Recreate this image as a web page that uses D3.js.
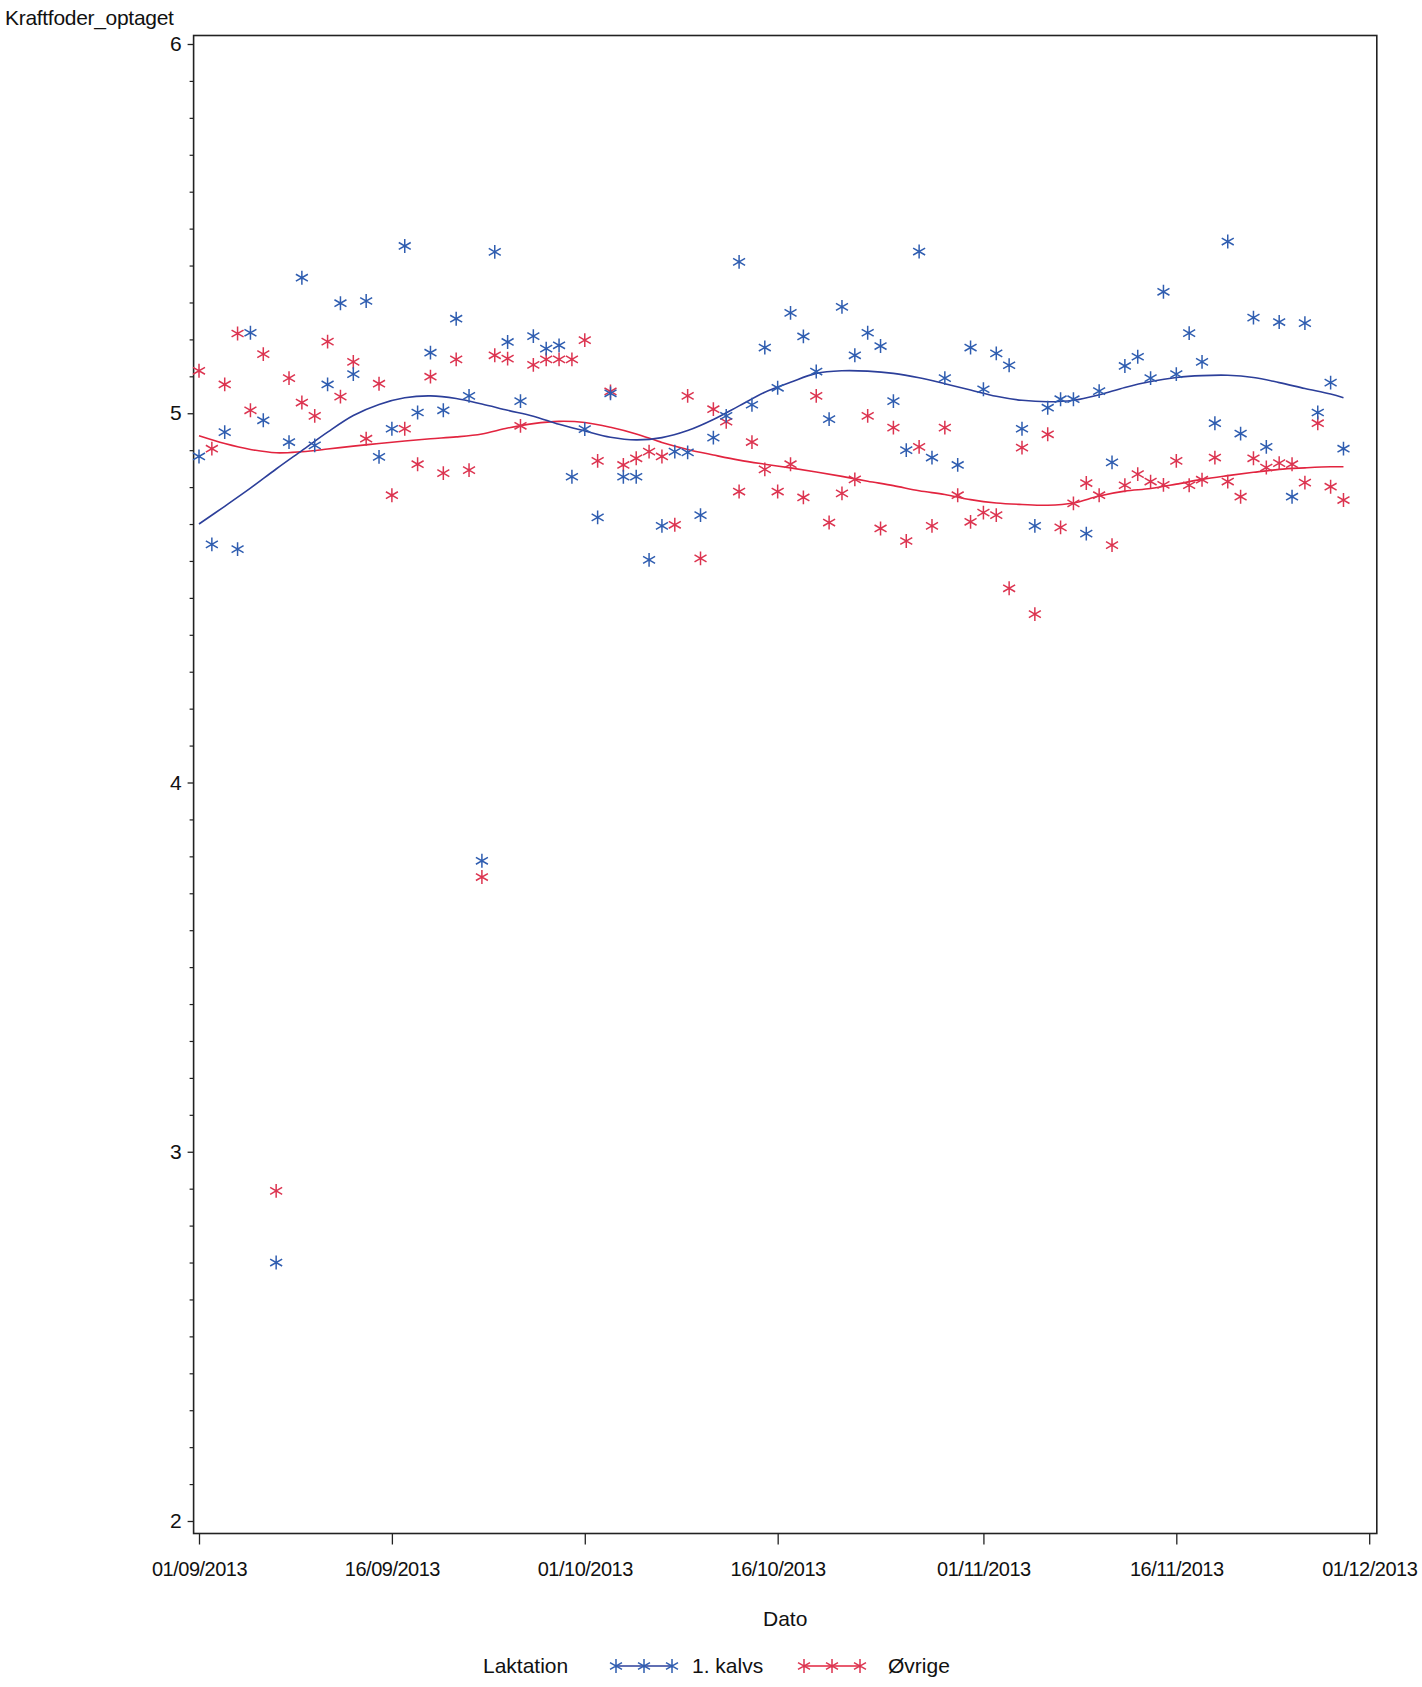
<!DOCTYPE html>
<html>
<head>
<meta charset="utf-8">
<script src="https://cdn.jsdelivr.net/npm/d3@7"></script>
<style>
  html, body { margin: 0; padding: 0; background: #fff; }
  svg { display: block; }
  text { font-family: "Liberation Sans", Arial, sans-serif; fill: #111; }
</style>
</head>
<body>
<svg id="chart" width="1422" height="1687"></svg>
<script>
// ---------- DATA ----------
const dates = [
  "2013-09-01","2013-09-02","2013-09-03","2013-09-04","2013-09-05","2013-09-06","2013-09-07","2013-09-08","2013-09-09","2013-09-10",
  "2013-09-11","2013-09-12","2013-09-13","2013-09-14","2013-09-15","2013-09-16","2013-09-17","2013-09-18","2013-09-19","2013-09-20",
  "2013-09-21","2013-09-22","2013-09-23","2013-09-24","2013-09-25","2013-09-26","2013-09-27","2013-09-28","2013-09-29","2013-09-30",
  "2013-10-01","2013-10-02","2013-10-03","2013-10-04","2013-10-05","2013-10-06","2013-10-07","2013-10-08","2013-10-09","2013-10-10",
  "2013-10-11","2013-10-12","2013-10-13","2013-10-14","2013-10-15","2013-10-16","2013-10-17","2013-10-18","2013-10-19","2013-10-20",
  "2013-10-21","2013-10-22","2013-10-23","2013-10-24","2013-10-25","2013-10-26","2013-10-27","2013-10-28","2013-10-29","2013-10-30",
  "2013-10-31","2013-11-01","2013-11-02","2013-11-03","2013-11-04","2013-11-05","2013-11-06","2013-11-07","2013-11-08","2013-11-09",
  "2013-11-10","2013-11-11","2013-11-12","2013-11-13","2013-11-14","2013-11-15","2013-11-16","2013-11-17","2013-11-18","2013-11-19",
  "2013-11-20","2013-11-21","2013-11-22","2013-11-23","2013-11-24","2013-11-25","2013-11-26","2013-11-27","2013-11-28","2013-11-29"
];

const kalvs1 = [
  4.883,4.645,4.949,4.632,5.218,4.981,2.700,4.922,5.367,4.913,
  5.078,5.298,5.106,5.304,4.882,4.958,5.453,5.002,5.164,5.008,
  5.256,5.047,3.788,5.437,5.193,5.033,5.209,5.175,5.184,4.828,
  4.957,4.718,5.054,4.828,4.828,4.603,4.695,4.896,4.894,4.724,
  4.934,4.993,5.410,5.023,5.178,5.069,5.272,5.208,5.113,4.984,
  5.288,5.157,5.218,5.182,5.033,4.900,5.438,4.880,5.095,4.860,
  5.178,5.065,5.162,5.130,4.958,4.695,5.015,5.038,5.038,4.674,
  5.060,4.867,5.128,5.153,5.095,5.329,5.106,5.217,5.139,4.973,
  5.465,4.945,5.259,4.909,5.247,4.774,5.244,5.002,5.083,4.904
];

const ovrige = [
  5.115,4.904,5.078,5.216,5.008,5.160,2.894,5.095,5.029,4.993,
  5.194,5.045,5.139,4.931,5.080,4.778,4.958,4.862,5.099,4.838,
  5.146,4.846,3.744,5.157,5.148,4.966,5.131,5.146,5.146,5.146,
  5.198,4.871,5.059,4.860,4.878,4.896,4.883,4.698,5.047,4.607,
  5.011,4.977,4.788,4.922,4.848,4.788,4.862,4.772,5.047,4.704,
  4.783,4.821,4.993,4.688,4.961,4.654,4.909,4.695,4.961,4.778,
  4.706,4.731,4.724,4.526,4.907,4.456,4.943,4.691,4.756,4.811,
  4.778,4.643,4.805,4.835,4.815,4.806,4.871,4.805,4.820,4.880,
  4.815,4.774,4.878,4.853,4.865,4.862,4.812,4.973,4.801,4.765
];

// smoothed fit curves (days after 01/09/2013)
const fitDays = [0,2,4,6,8,10,12,14,16,18,20,22,24,26,28,30,32,34,36,38,40,42,44,46,48,50,52,54,56,58,60,62,64,66,68,70,72,74,76,78,80,82,84,86,88,89];
const fitKalvs1 = [4.700,4.748,4.797,4.849,4.899,4.949,4.994,5.024,5.042,5.047,5.040,5.025,5.008,4.992,4.970,4.952,4.935,4.928,4.934,4.953,4.983,5.020,5.057,5.084,5.108,5.115,5.114,5.108,5.096,5.080,5.063,5.046,5.035,5.031,5.035,5.050,5.070,5.086,5.097,5.102,5.103,5.097,5.083,5.067,5.052,5.042];
const fitOvrige = [4.939,4.918,4.902,4.893,4.896,4.903,4.911,4.918,4.925,4.931,4.936,4.944,4.960,4.972,4.978,4.975,4.962,4.944,4.921,4.902,4.887,4.873,4.862,4.852,4.841,4.829,4.816,4.804,4.790,4.780,4.766,4.757,4.753,4.751,4.757,4.776,4.789,4.796,4.808,4.821,4.831,4.840,4.848,4.852,4.855,4.855];

const xTickDates = ["2013-09-01","2013-09-16","2013-10-01","2013-10-16","2013-11-01","2013-11-16","2013-12-01"];
const yTicks = [2, 3, 4, 5, 6];
const seriesNames = ["1. kalvs", "Øvrige"];
const legendTitle = "Laktation";
const yTitle = "Kraftfoder_optaget";
const xTitle = "Dato";

// ---------- DRAWING ----------
const parse = d3.utcParse("%Y-%m-%d");
const fmt = d3.utcFormat("%d/%m/%Y");
const svg = d3.select("#chart");

const frame = { left: 193.6, right: 1376.8, top: 35.5, bottom: 1533.5 };
const x = d3.scaleUtc().domain([parse("2013-09-01"), parse("2013-12-01")]).range([199, 1369.2]);
const y = d3.scaleLinear().domain([2, 6]).range([1521, 44]);

const colors = {
  blueMark: "#2f5db0", blueLine: "#2c3f9a",
  redMark: "#dc3450", redLine: "#e2243f"
};

// frame
svg.append("rect")
  .attr("x", frame.left).attr("y", frame.top)
  .attr("width", frame.right - frame.left).attr("height", frame.bottom - frame.top)
  .attr("fill", "none").attr("stroke", "#222").attr("stroke-width", 1.6);

// y axis major
const yAxis = svg.append("g").attr("transform", `translate(${frame.left},0)`)
  .call(d3.axisLeft(y).tickValues(yTicks).tickSize(6).tickPadding(6).tickFormat(d3.format("d")));
yAxis.select(".domain").remove();
yAxis.selectAll("line").attr("stroke", "#222").attr("stroke-width", 1.3);
yAxis.selectAll("text").style("font-size", "21px").style("font-family", "Liberation Sans, Arial, sans-serif").attr("fill", "#111");

// y axis minor
const minorTicks = d3.range(20, 61).map(v => v / 10).filter(v => !yTicks.includes(v));
const yMinor = svg.append("g").attr("transform", `translate(${frame.left},0)`)
  .call(d3.axisLeft(y).tickValues(minorTicks).tickSize(4).tickFormat(""));
yMinor.select(".domain").remove();
yMinor.selectAll("line").attr("stroke", "#222").attr("stroke-width", 1.2);

// x axis
const xAxis = svg.append("g").attr("transform", `translate(0,${frame.bottom})`)
  .call(d3.axisBottom(x).tickValues(xTickDates.map(parse)).tickSize(11).tickPadding(17).tickFormat(fmt));
xAxis.select(".domain").remove();
xAxis.selectAll("line").attr("stroke", "#222").attr("stroke-width", 1.3);
xAxis.selectAll("text").style("font-size", "20px").style("font-family", "Liberation Sans, Arial, sans-serif")
  .style("letter-spacing", "-0.5px").attr("fill", "#111");

// fit lines
const fitLine = d3.line()
  .x(d => x(new Date(parse("2013-09-01").getTime() + d[0] * 86400000)))
  .y(d => y(d[1]))
  .curve(d3.curveCatmullRom.alpha(0.5));

svg.append("path").datum(fitDays.map((d, i) => [d, fitOvrige[i]]))
  .attr("d", fitLine).attr("fill", "none").attr("stroke", colors.redLine).attr("stroke-width", 1.6);
svg.append("path").datum(fitDays.map((d, i) => [d, fitKalvs1[i]]))
  .attr("d", fitLine).attr("fill", "none").attr("stroke", colors.blueLine).attr("stroke-width", 1.6);

// markers
const star = d3.symbol().type(d3.symbolAsterisk).size(135);
function drawStars(vals, col) {
  svg.append("g").selectAll("path").data(vals.map((v, i) => [parse(dates[i]), v]))
    .join("path")
    .attr("transform", d => `translate(${x(d[0])},${y(d[1])})`)
    .attr("d", star)
    .attr("fill", "none").attr("stroke", col).attr("stroke-width", 1.5);
}
drawStars(ovrige, colors.redMark);
drawStars(kalvs1, colors.blueMark);

// titles
svg.append("text").attr("x", 5).attr("y", 25).style("font-size", "21px").style("letter-spacing", "-0.3px").text(yTitle);
svg.append("text").attr("x", (frame.left + frame.right) / 2).attr("y", 1626)
  .attr("text-anchor", "middle").style("font-size", "21px").text(xTitle);

// legend
const legY = 1666;
svg.append("text").attr("x", 483).attr("y", legY + 7).style("font-size", "21px").text(legendTitle);
function legendItem(x0, x1, lineCol, markCol, label, tx) {
  svg.append("line").attr("x1", x0).attr("x2", x1).attr("y1", legY).attr("y2", legY)
    .attr("stroke", lineCol).attr("stroke-width", 1.6);
  [x0, (x0 + x1) / 2, x1].forEach(px => {
    svg.append("path").attr("transform", `translate(${px},${legY})`).attr("d", star)
      .attr("fill", "none").attr("stroke", markCol).attr("stroke-width", 1.5);
  });
  svg.append("text").attr("x", tx).attr("y", legY + 7).style("font-size", "21px").text(label);
}
legendItem(616, 672, colors.blueLine, colors.blueMark, seriesNames[0], 692);
legendItem(804, 860, colors.redLine, colors.redMark, seriesNames[1], 888);
</script>
</body>
</html>
